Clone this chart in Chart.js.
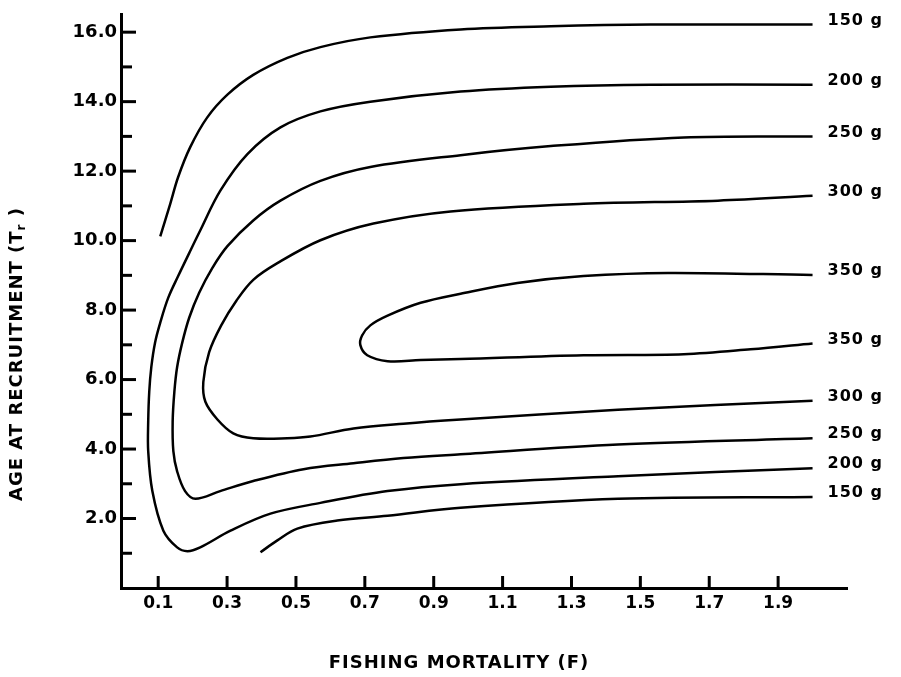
<!DOCTYPE html>
<html><head><meta charset="utf-8">
<style>html,body{margin:0;padding:0;background:#fff}</style>
</head><body>
<canvas id="c" width="901" height="677"></canvas>
<script src="https://cdn.jsdelivr.net/npm/chart.js@4"></script>
<script>
// ---- data ----
const xTickValues = [0.1,0.3,0.5,0.7,0.9,1.1,1.3,1.5,1.7,1.9];
const yMajorTicks = [2,4,6,8,10,12,14,16];
const yMinorTicks = [1,3,5,7,9,11,13,15];

const c150UpperF = [0.106,0.135,0.158,0.193,0.242,0.301,0.376,0.475,0.571,0.716,0.978,1.24,1.53,2.0];
const c150UpperT = [10.12,11.06,11.83,12.69,13.54,14.2,14.77,15.26,15.57,15.85,16.08,16.17,16.22,16.22];

const c200F = [2.0,1.53,1.24,0.978,0.716,0.571,0.455,0.359,0.28,0.222,0.19,0.158,0.129,0.106,0.091,0.08,0.074,0.071,0.071,0.083,0.115,0.155,0.185,0.222,0.31,0.426,0.571,0.766,0.978,1.435,2.0];
const c200T = [14.49,14.49,14.43,14.29,14.0,13.72,13.26,12.49,11.43,10.29,9.64,8.98,8.35,7.64,7.07,6.36,5.65,4.79,3.94,2.79,1.65,1.17,1.06,1.17,1.65,2.14,2.45,2.79,2.99,3.22,3.45];

const c250F = [2.0,1.626,1.24,0.978,0.716,0.571,0.455,0.376,0.301,0.257,0.219,0.19,0.17,0.155,0.147,0.142,0.144,0.155,0.178,0.208,0.28,0.376,0.522,0.667,0.812,0.978,1.435,2.0];
const c250T = [13.0,12.97,12.72,12.46,12.12,11.72,11.15,10.58,9.84,9.21,8.5,7.78,7.07,6.36,5.65,4.79,3.94,3.36,2.79,2.57,2.79,3.08,3.42,3.59,3.74,3.85,4.13,4.31];

const c300F = [2.0,1.725,1.335,0.949,0.725,0.571,0.446,0.376,0.327,0.283,0.248,0.231,0.237,0.272,0.318,0.376,0.475,0.542,0.667,0.812,0.978,1.435,2.0];
const c300T = [11.29,11.15,11.06,10.84,10.49,10.01,9.35,8.87,8.27,7.56,6.79,5.93,5.36,4.85,4.45,4.31,4.31,4.36,4.59,4.73,4.85,5.13,5.39];

const c350F = [2.0,1.58,1.335,1.143,0.978,0.862,0.766,0.716,0.692,0.687,0.707,0.766,0.862,0.978,1.335,1.626,1.82,2.0];
const c350T = [9.01,9.07,8.98,8.78,8.47,8.21,7.84,7.56,7.27,6.99,6.7,6.53,6.56,6.59,6.7,6.73,6.87,7.04];

const c150LowerF = [0.397,0.446,0.504,0.62,0.766,0.978,1.435,2.0];
const c150LowerT = [1.03,1.37,1.71,1.94,2.08,2.31,2.57,2.62];

const contourNames = ['150 g','200 g','250 g','300 g','350 g','150 g'];
const xTitle = 'FISHING MORTALITY (F)';
const yTitleMain = 'AGE AT RECRUITMENT (T';
const yTitleSub = 'r';
const yTitleEnd = ' )';

// ---- build ----
const seriesF = [c150UpperF,c200F,c250F,c300F,c350F,c150LowerF];
const seriesT = [c150UpperT,c200T,c250T,c300T,c350T,c150LowerT];
const datasets = seriesF.map((fs,i)=>({
  label: contourNames[i],
  data: fs.map((f,j)=>({x:f,y:seriesT[i][j]})),
  showLine:true, borderColor:'#000', borderWidth:2.5, pointRadius:0,
  tension:0.35, fill:false
}));

const FONT = '"DejaVu Sans", sans-serif';

const decor = {
  id:'decor',
  afterDraw(chart){
    const ctx = chart.ctx, xs = chart.scales.x, ys = chart.scales.y;
    const ca = chart.chartArea;
    ctx.save();
    ctx.strokeStyle = '#000'; ctx.lineWidth = 3; ctx.lineCap = 'butt';
    const seg=(a,b,c,d)=>{ctx.beginPath();ctx.moveTo(a,b);ctx.lineTo(c,d);ctx.stroke();};
    yMajorTicks.forEach(v=>{const p=ys.getPixelForValue(v); seg(ca.left,p,ca.left+15,p);});
    yMinorTicks.forEach(v=>{const p=ys.getPixelForValue(v); seg(ca.left,p,ca.left+11,p);});
    xTickValues.forEach(v=>{const p=xs.getPixelForValue(v); seg(p,ca.bottom,p,ca.bottom-12);});

    // contour labels
    ctx.fillStyle = '#000';
    ctx.font = 'bold 16px ' + FONT;
    ctx.letterSpacing = '1px';
    ctx.textAlign = 'left'; ctx.textBaseline = 'middle';
    seriesF.forEach((fs,i)=>{
      const ts = seriesT[i];
      [[fs[0],ts[0]],[fs[fs.length-1],ts[ts.length-1]]].forEach(([f,t],k)=>{
        if (f < 1.9) return;
        if (k===0 && fs[0]===fs[fs.length-1] && ts[0]===ts[ts.length-1]) return;
        ctx.fillText(contourNames[i], xs.getPixelForValue(f)+15, ys.getPixelForValue(t)-4);
      });
    });

    // x title
    ctx.font = 'bold 18px ' + FONT;
    ctx.letterSpacing = '1px';
    ctx.textAlign = 'center';
    ctx.fillText(xTitle, 459, 663);

    // y title
    ctx.translate(17, 354);
    ctx.rotate(-Math.PI/2);
    ctx.textAlign = 'left';
    const fMain = 'bold 18px ' + FONT, fSub = 'bold 12px ' + FONT;
    ctx.font = fMain; const w1 = ctx.measureText(yTitleMain).width;
    const w3 = ctx.measureText(yTitleEnd).width;
    ctx.font = fSub; const w2 = ctx.measureText(yTitleSub).width;
    let x0 = -(w1+w2+w3)/2;
    ctx.font = fMain; ctx.fillText(yTitleMain, x0, 0);
    ctx.font = fSub; ctx.fillText(yTitleSub, x0+w1, 5);
    ctx.font = fMain; ctx.fillText(yTitleEnd, x0+w1+w2, 0);
    ctx.restore();
  }
};

new Chart(document.getElementById('c'), {
  type:'scatter',
  data:{datasets},
  options:{
    responsive:false, animation:false,
    layout:{padding:{top:10,right:54,left:0,bottom:0}},
    plugins:{legend:{display:false}, tooltip:{enabled:false}},
    scales:{
      x:{type:'linear', min:-0.008, max:2.1,
        afterFit(s){s.height=89;},
        afterBuildTicks(s){s.ticks = xTickValues.map(v=>({value:v}));},
        grid:{display:false, drawTicks:false},
        border:{display:true, width:3, color:'#000'},
        ticks:{padding:5, color:'#000', autoSkip:false, maxRotation:0,
          font:{family:FONT, weight:'bold', size:17},
          callback:v=>Number(v).toFixed(1)}
      },
      y:{type:'linear', min:0, max:16.5,
        afterFit(s){s.width=121;},
        afterBuildTicks(s){s.ticks = yMajorTicks.map(v=>({value:v}));},
        grid:{display:false, drawTicks:false},
        border:{display:true, width:3, color:'#000'},
        ticks:{padding:4, color:'#000', autoSkip:false,
          font:{family:FONT, weight:'bold', size:18},
          callback:v=>Number(v).toFixed(1)}
      }
    }
  },
  plugins:[decor]
});
</script>
</body></html>
